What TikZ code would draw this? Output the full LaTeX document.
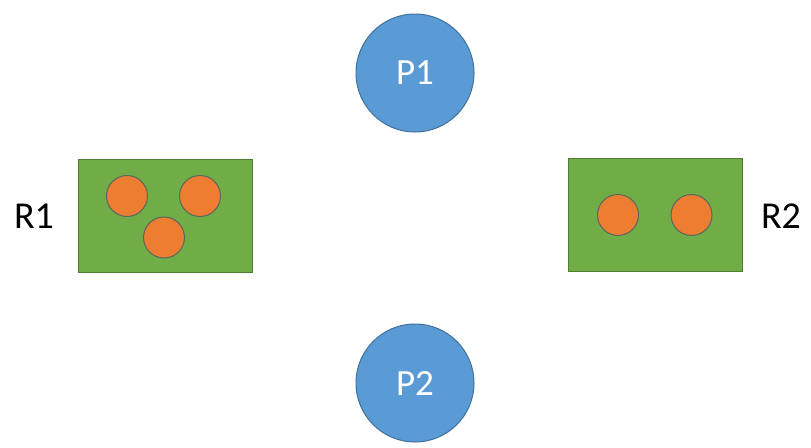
\documentclass[tikz,border=0pt]{standalone}
\usepackage{fontspec}
\setmainfont{Carlito}
\definecolor{pblue}{HTML}{5B9BD5}
\definecolor{pblueline}{HTML}{41719C}
\definecolor{rgreen}{HTML}{70AD47}
\definecolor{rgreenline}{HTML}{4E7F33}
\definecolor{rorange}{HTML}{ED7D31}
\definecolor{roline}{HTML}{5A6660}
\begin{document}
\begin{tikzpicture}[x=1pt,y=-1pt,
  proc/.style={circle,fill=pblue,draw=pblueline,line width=1pt,minimum size=118pt,inner sep=0pt,text=white,font=\fontsize{37}{40}\selectfont},
  res/.style={rectangle,fill=rgreen,draw=rgreenline,line width=1pt,minimum width=174pt,minimum height=113pt,inner sep=0pt},
  inst/.style={circle,fill=rorange,draw=roline,line width=1pt,minimum size=41pt,inner sep=0pt},
  lbl/.style={font=\fontsize{38}{40}\selectfont,text=black,inner sep=0pt}]
\useasboundingbox (0,0) rectangle (811,447);
\fill[white] (0,0) rectangle (811,447);
\node[proc] (P1) at (415,73) {P1};
\node[proc] (P2) at (415,383) {P2};
\node[res] (R1) at (165,215.5) {};
\node[res] (R2) at (655,215) {};
\node[inst] (a1) at (127,196) {};
\node[inst] (a2) at (200,196) {};
\node[inst] (a3) at (164,237.5) {};
\node[inst] (b1) at (618,215) {};
\node[inst] (b2) at (691.5,215) {};
\node[lbl] (L1) at (34,216) {R1};
\node[lbl] (L2) at (781,216) {R2};
\end{tikzpicture}
\end{document}
